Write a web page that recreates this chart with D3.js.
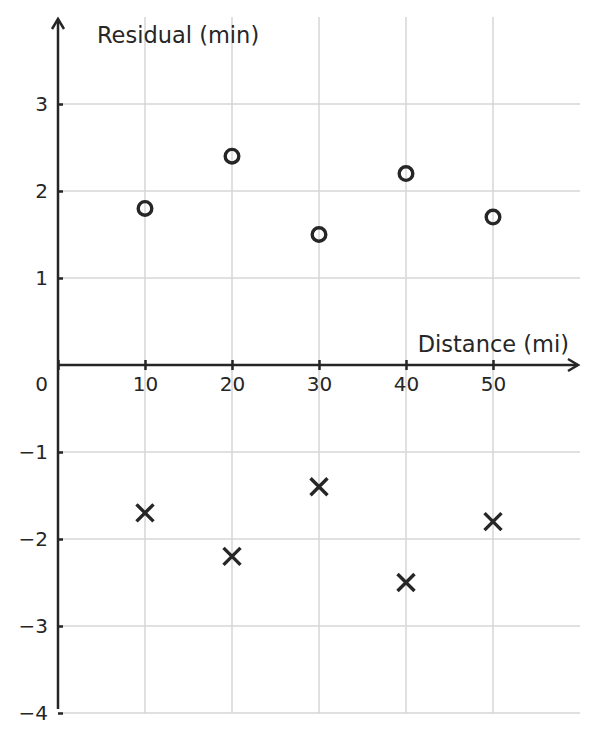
<!DOCTYPE html>
<html>
<head>
<meta charset="utf-8">
<script src="https://cdn.jsdelivr.net/npm/d3@7"></script>
<style>
  body { margin: 0; background: #fff; }
  text { font-family: "DejaVu Sans", sans-serif; fill: #262626; }
</style>
</head>
<body>
<svg id="chart" width="597" height="741"></svg>
<script>
// data
const distances = [10, 20, 30, 40, 50];
const aboveResiduals = [1.8, 2.4, 1.5, 2.2, 1.7];
const belowResiduals = [-1.7, -2.2, -1.4, -2.5, -1.8];
const xTicks = [10, 20, 30, 40, 50];
const yTicks = [3, 2, 1, -1, -2, -3, -4];
const xLabel = 'Distance (mi)';
const yLabel = 'Residual (min)';

const ink = '#262626';
const grid = '#d6d6d6';

const svg = d3.select('#chart');

const x = d3.scaleLinear().domain([0, 60]).range([58, 580]);
const y = d3.scaleLinear().domain([-4, 4]).range([713, 17]);

// grid
svg.append('g')
  .selectAll('line')
  .data(xTicks)
  .join('line')
  .attr('x1', d => x(d))
  .attr('x2', d => x(d))
  .attr('y1', y(4))
  .attr('y2', y(-4))
  .attr('stroke', grid)
  .attr('stroke-width', 1.5);

svg.append('g')
  .selectAll('line')
  .data(yTicks.concat([0]))
  .join('line')
  .attr('x1', x(0))
  .attr('x2', x(60))
  .attr('y1', d => y(d))
  .attr('y2', d => y(d))
  .attr('stroke', grid)
  .attr('stroke-width', 1.5);

// x axis through y = 0
const xAxis = d3.axisBottom(x)
  .tickValues([0].concat(xTicks))
  .tickSize(5)
  .tickFormat(d => (d === 0 ? '' : d));

const gx = svg.append('g')
  .attr('transform', `translate(0,${y(0)})`)
  .call(xAxis);
gx.select('.domain').remove();
gx.selectAll('.tick line')
  .attr('y1', -5)
  .attr('y2', 5)
  .attr('stroke', ink)
  .attr('stroke-width', 2.5);
gx.selectAll('.tick text')
  .attr('y', 12)
  .attr('font-size', 20)
  .attr('font-family', '"DejaVu Sans", sans-serif')
  .attr('fill', ink);

// y axis at x = 0
const yAxis = d3.axisRight(y)
  .tickValues(yTicks)
  .tickSize(5)
  .tickFormat(d3.format('d'));

const gy = svg.append('g')
  .attr('transform', `translate(${x(0)},0)`)
  .call(yAxis);
gy.select('.domain').remove();
gy.selectAll('.tick line')
  .attr('stroke', ink)
  .attr('stroke-width', 2.5);
gy.selectAll('.tick text')
  .attr('x', -10)
  .attr('text-anchor', 'end')
  .attr('font-size', 20)
  .attr('font-family', '"DejaVu Sans", sans-serif')
  .attr('fill', ink)
  .text(d => d3.format('d')(d).replace('-', '\u2212'));

// zero label at the origin
svg.append('text')
  .attr('x', x(0) - 10)
  .attr('y', y(0) + 26)
  .attr('text-anchor', 'end')
  .attr('font-size', 20)
  .text('0');

// axis lines with open arrow heads
const axisLine = d3.line();
svg.append('path')
  .attr('d', axisLine([[x(0), y(-4) - 4], [x(0), y(4) + 2]]))
  .attr('stroke', ink)
  .attr('stroke-width', 2.5)
  .attr('fill', 'none');
svg.append('path')
  .attr('d', axisLine([[x(0) - 6, y(4) + 12], [x(0), y(4) + 2], [x(0) + 6, y(4) + 12]]))
  .attr('stroke', ink)
  .attr('stroke-width', 2.5)
  .attr('fill', 'none');
svg.append('path')
  .attr('d', axisLine([[x(0), y(0)], [x(60) - 2, y(0)]]))
  .attr('stroke', ink)
  .attr('stroke-width', 2.5)
  .attr('fill', 'none');
svg.append('path')
  .attr('d', axisLine([[x(60) - 12, y(0) - 6], [x(60) - 2, y(0)], [x(60) - 12, y(0) + 6]]))
  .attr('stroke', ink)
  .attr('stroke-width', 2.5)
  .attr('fill', 'none');

// axis labels
svg.append('text')
  .attr('x', 97)
  .attr('y', 43)
  .attr('font-size', 22.5)
  .text(yLabel);

svg.append('text')
  .attr('x', 569)
  .attr('y', 352)
  .attr('text-anchor', 'end')
  .attr('font-size', 22.5)
  .text(xLabel);

// points above: open circles
svg.append('g')
  .selectAll('circle')
  .data(distances.map((d, i) => [d, aboveResiduals[i]]))
  .join('circle')
  .attr('cx', d => x(d[0]))
  .attr('cy', d => y(d[1]))
  .attr('r', 6.8)
  .attr('fill', 'none')
  .attr('stroke', ink)
  .attr('stroke-width', 3.4);

// points below: crosses
const cross = d3.symbol().type(d3.symbolTimes).size(190);
svg.append('g')
  .selectAll('path')
  .data(distances.map((d, i) => [d, belowResiduals[i]]))
  .join('path')
  .attr('transform', d => `translate(${x(d[0])},${y(d[1])})`)
  .attr('d', cross)
  .attr('fill', 'none')
  .attr('stroke', ink)
  .attr('stroke-width', 3.4);
</script>
</body>
</html>
